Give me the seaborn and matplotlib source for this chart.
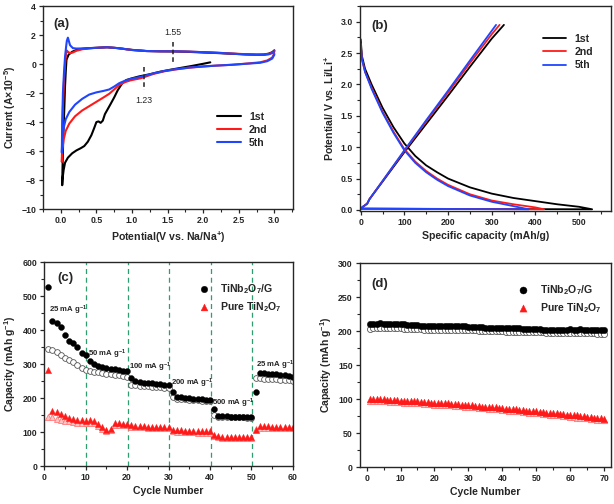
import numpy as np
import matplotlib
matplotlib.use("Agg")
import matplotlib.pyplot as plt
import seaborn as sns
from matplotlib.ticker import MultipleLocator

sns.set_style("ticks")
plt.rcParams['font.family'] = ['Liberation Sans', 'DejaVu Sans']
plt.rcParams['font.weight'] = 'bold'
plt.rcParams['axes.labelweight'] = 'bold'
plt.rcParams['mathtext.fontset'] = 'custom'
plt.rcParams['mathtext.rm'] = 'Liberation Sans:bold'
plt.rcParams['mathtext.default'] = 'rm'

# ---- (a) CV curves ----
cv1_x = [2.10, 2.00, 1.85, 1.70, 1.55, 1.40, 1.25, 1.10, 1.00, 0.92,
         0.86, 0.80, 0.75, 0.70, 0.66, 0.62, 0.59, 0.56, 0.53, 0.50,
         0.47, 0.43, 0.38, 0.33, 0.28, 0.22, 0.16, 0.10, 0.06, 0.04,
         0.025, 0.02, 0.025, 0.035, 0.05, 0.06, 0.07, 0.08, 0.11, 0.16,
         0.22, 0.30, 0.40, 0.50, 0.65, 0.80, 1.00, 1.20, 1.40, 1.60,
         1.80, 2.00, 2.20, 2.40, 2.60, 2.75, 2.85, 2.92, 2.97, 3.00]
cv1_y = [0.12, 0.02, -0.12, -0.25, -0.38, -0.52, -0.70, -0.85, -0.98, -1.10,
         -1.35, -1.80, -2.30, -2.75, -3.10, -3.45, -3.90, -4.05, -3.95, -4.00,
         -4.40, -4.90, -5.35, -5.65, -5.80, -5.95, -6.15, -6.45, -6.80, -7.30,
         -7.90, -8.35, -7.00, -5.00, -3.00, -1.50, -0.50, 0.30, 0.65, 0.85,
         0.97, 1.05, 1.10, 1.12, 1.16, 1.10, 0.98, 0.90, 0.88, 0.87,
         0.84, 0.80, 0.76, 0.71, 0.67, 0.65, 0.66, 0.72, 0.82, 0.95]

cv_x = [3.00, 2.97, 2.90, 2.80, 2.60, 2.40, 2.20, 2.00, 1.80, 1.60,
        1.45, 1.30, 1.20, 1.12, 1.05, 0.98, 0.90, 0.82, 0.75, 0.68,
        0.60, 0.50, 0.40, 0.30, 0.20, 0.12, 0.07, 0.04, 0.02, 0.015,
        0.02, 0.03, 0.045, 0.06, 0.075, 0.085, 0.10, 0.13, 0.17, 0.22,
        0.30, 0.40, 0.50, 0.65, 0.80, 1.00, 1.20, 1.40, 1.60, 1.80,
        2.00, 2.20, 2.40, 2.60, 2.75, 2.85, 2.92, 2.97, 3.00]
cv2_y = [0.75, 0.45, 0.25, 0.12, 0.03, -0.05, -0.10, -0.17, -0.25, -0.38,
         -0.50, -0.68, -0.85, -0.98, -1.05, -1.12, -1.25, -1.45, -1.75, -2.05,
         -2.30, -2.60, -2.90, -3.20, -3.60, -4.10, -4.60, -5.20, -6.00, -6.75,
         -5.00, -3.00, -1.20, 0.00, 0.75, 0.93, 0.85, 0.75, 0.80, 0.92,
         1.02, 1.08, 1.12, 1.16, 1.10, 0.97, 0.90, 0.88, 0.88, 0.86,
         0.82, 0.78, 0.73, 0.68, 0.66, 0.66, 0.70, 0.78, 0.90]
cv5_y = [0.65, 0.38, 0.20, 0.09, 0.02, -0.05, -0.10, -0.16, -0.24, -0.36,
         -0.48, -0.64, -0.78, -0.88, -0.95, -1.02, -1.15, -1.32, -1.55, -1.75,
         -1.85, -1.95, -2.10, -2.40, -2.80, -3.30, -3.80, -4.40, -5.20, -6.10,
         -4.00, -2.00, -0.60, 0.50, 1.20, 1.60, 1.82, 1.30, 1.10, 1.07,
         1.08, 1.10, 1.12, 1.16, 1.10, 0.97, 0.90, 0.88, 0.88, 0.86,
         0.82, 0.78, 0.72, 0.66, 0.63, 0.63, 0.67, 0.76, 0.88]

# ---- (b) discharge / charge ----
dis1_cap = [0, 3, 10, 25, 50, 75, 100, 125, 150, 175, 200, 250, 300, 350, 400, 450, 500, 530]
dis1_v = [2.72, 2.45, 2.25, 2.00, 1.63, 1.32, 1.06, 0.86, 0.71, 0.60, 0.50, 0.36, 0.26, 0.19, 0.14, 0.09, 0.05, 0.01]
dis2_cap = [0, 3, 10, 25, 50, 75, 100, 125, 150, 175, 200, 250, 300, 350, 400, 420]
dis2_v = [2.65, 2.40, 2.20, 1.95, 1.57, 1.25, 0.97, 0.77, 0.62, 0.50, 0.40, 0.25, 0.15, 0.09, 0.04, 0.01]
dis5_cap = [0, 3, 10, 25, 50, 75, 100, 125, 150, 175, 200, 250, 300, 350, 385]
dis5_v = [2.65, 2.40, 2.20, 1.93, 1.55, 1.23, 0.95, 0.75, 0.60, 0.48, 0.38, 0.23, 0.13, 0.06, 0.01]
chg1_cap = [0, 5, 15, 20, 50, 100, 150, 200, 250, 300, 328]
chg1_v = [0.02, 0.05, 0.10, 0.17, 0.45, 0.92, 1.37, 1.82, 2.28, 2.73, 2.95]
chg2_cap = [0, 5, 15, 20, 50, 100, 150, 200, 250, 300, 318]
chg2_v = [0.02, 0.05, 0.10, 0.17, 0.46, 0.94, 1.41, 1.87, 2.34, 2.80, 2.95]
chg5_cap = [0, 5, 15, 20, 50, 100, 150, 200, 250, 310]
chg5_v = [0.02, 0.05, 0.10, 0.17, 0.46, 0.95, 1.43, 1.90, 2.38, 2.95]

# ---- (c) rate performance ----
g_dis = [527, 427, 421, 410, 385, 369, 361, 351, 334, 327,
         308, 300, 296, 292, 289, 287, 285, 283, 281, 279,
         260, 249, 247, 246, 245, 244, 243, 241, 240, 238,
         219, 204, 202, 201, 200, 199, 198, 197, 196, 195,
         167, 148, 147, 147, 146, 146, 146, 146, 145, 145,
         219, 273, 273, 272, 271, 270, 269, 267, 265, 263]
g_chg = [345, 342, 335, 327, 318, 312, 305, 298, 290, 284,
         281, 278, 276, 274, 272, 271, 269, 267, 265, 262,
         240, 238, 237, 236, 235, 234, 233, 232, 231, 230,
         203, 199, 198, 197, 196, 195, 194, 193, 192, 191,
         150, 145, 145, 145, 144, 144, 144, 144, 143, 143,
         258, 258, 257, 257, 256, 255, 254, 253, 252, 251]
p_dis = [283, 163, 158, 152, 147, 143, 140, 137, 135, 134,
         135, 133, 125, 115, 107, 108, 127, 126, 125, 125,
         120, 118, 117, 117, 116, 116, 115, 115, 114, 114,
         107, 105, 105, 104, 104, 104, 103, 103, 103, 102,
         93, 88, 87, 87, 87, 86, 86, 86, 86, 85,
         105, 117, 117, 117, 116, 116, 116, 116, 115, 115]
p_chg = [145, 145, 140, 137, 134, 132, 130, 128, 127, 127,
         128, 126, 118, 110, 103, 105, 122, 122, 121, 121,
         116, 115, 114, 114, 113, 113, 112, 112, 111, 111,
         102, 101, 101, 100, 100, 100, 99, 99, 99, 98,
         88, 85, 84, 84, 84, 83, 83, 83, 83, 82,
         110, 113, 113, 113, 113, 112, 112, 112, 112, 112]
rate_edges = [10.2, 20.2, 30.2, 40.2, 50.2]
rate_labels = ["25 mA g$^{-1}$", "50 mA g$^{-1}$", "100 mA g$^{-1}$",
               "200 mA g$^{-1}$", "500 mA g$^{-1}$", "25 mA g$^{-1}$"]
rate_pos = [(1.1, 457), (10.5, 330), (20.5, 290), (30.6, 245), (40.5, 186), (51.0, 297)]

# ---- (d) cycling ----
d_g_dis = [210, 211, 211, 212, 211, 210, 211, 211, 210, 210,
           210, 209, 209, 209, 209, 208, 208, 208, 208, 208,
           208, 208, 207, 207, 208, 207, 207, 207, 207, 206,
           206, 206, 206, 206, 205, 205, 205, 205, 205, 205,
           204, 204, 204, 204, 204, 203, 203, 203, 203, 203,
           203, 202, 202, 202, 202, 202, 202, 202, 202, 203,
           202, 202, 203, 202, 202, 201, 201, 201, 201, 201]
d_g_chg = [203, 204, 204, 204, 204, 204, 204, 204, 204, 204,
           203, 203, 203, 203, 203, 203, 202, 202, 202, 202,
           202, 202, 202, 202, 202, 202, 201, 201, 201, 201,
           201, 201, 200, 200, 200, 200, 200, 200, 200, 200,
           199, 199, 199, 199, 199, 199, 198, 198, 198, 198,
           198, 198, 197, 197, 197, 197, 197, 197, 197, 197,
           197, 197, 197, 197, 197, 197, 197, 196, 196, 196]
d_p_dis = [100, 100, 100, 100, 100, 99, 99, 99, 99, 98,
           98, 98, 97, 97, 97, 96, 96, 96, 95, 95,
           95, 94, 94, 94, 93, 93, 93, 92, 92, 91,
           91, 90, 90, 89, 89, 89, 88, 88, 87, 87,
           86, 86, 85, 85, 84, 84, 83, 83, 82, 82,
           81, 81, 80, 80, 79, 79, 78, 78, 77, 77,
           76, 76, 75, 75, 74, 74, 73, 72, 72, 71]
d_p_chg = [97, 98, 98, 97, 97, 97, 96, 96, 96, 96,
           95, 95, 95, 94, 94, 94, 93, 93, 93, 92,
           92, 92, 91, 91, 91, 90, 90, 90, 89, 89,
           88, 88, 87, 87, 87, 86, 86, 85, 85, 84,
           84, 83, 83, 82, 82, 81, 81, 80, 80, 79,
           79, 78, 78, 77, 77, 76, 76, 75, 75, 74,
           74, 73, 73, 72, 72, 71, 71, 70, 70, 69]

BLACK, RED, BLUE = '#000000', '#ff1a1a', '#1f45ff'
TICK_FS, LABEL_FS, LEG_FS, TAG_FS = 6.3, 7.6, 7.6, 9.5

fig = plt.figure(figsize=(6.14, 5.04), dpi=100)
ax_a = fig.add_axes([0.070, 0.585, 0.407, 0.403])
ax_b = fig.add_axes([0.586, 0.581, 0.409, 0.407])
ax_c = fig.add_axes([0.072, 0.075, 0.405, 0.405])
ax_d = fig.add_axes([0.586, 0.073, 0.409, 0.405])


def style(ax, xmaj, ymaj):
    ax.xaxis.set_major_locator(MultipleLocator(xmaj))
    ax.xaxis.set_minor_locator(MultipleLocator(xmaj / 2))
    ax.yaxis.set_major_locator(MultipleLocator(ymaj))
    ax.yaxis.set_minor_locator(MultipleLocator(ymaj / 2))
    ax.tick_params(which='major', direction='out', length=3, width=0.9, labelsize=TICK_FS, pad=2)
    ax.tick_params(which='minor', direction='out', length=2, width=0.8)
    for lab in ax.get_xticklabels() + ax.get_yticklabels():
        lab.set_fontweight('bold')
    for sp in ax.spines.values():
        sp.set_linewidth(1.0)


# (a)
sns.lineplot(x=cv1_x, y=cv1_y, sort=False, estimator=None, color=BLACK, lw=1.5, label='1st', ax=ax_a)
sns.lineplot(x=cv_x, y=cv2_y, sort=False, estimator=None, color=RED, lw=1.5, label='2nd', ax=ax_a)
sns.lineplot(x=cv_x, y=cv5_y, sort=False, estimator=None, color=BLUE, lw=1.5, label='5th', ax=ax_a)
ax_a.plot([1.17, 1.17], [-0.2, -1.8], color='#222222', lw=1.1, ls=(0, (3, 2)))
ax_a.plot([1.58, 1.58], [1.55, 0.05], color='#222222', lw=1.1, ls=(0, (3, 2)))
ax_a.text(1.17, -2.5, '1.23', ha='center', va='center', fontsize=6.3, fontweight='normal')
ax_a.text(1.58, 2.2, '1.55', ha='center', va='center', fontsize=6.3, fontweight='normal')
ax_a.text(0.01, 2.75, '(a)', ha='center', va='center', fontsize=TAG_FS, fontweight='bold')
ax_a.set_xlim(-0.25, 3.26)
ax_a.set_ylim(-10, 4)
style(ax_a, 0.5, 2)
ax_a.set_xlabel('Potential(V vs. Na/Na$^{+}$)', fontsize=LABEL_FS, labelpad=3)
ax_a.set_ylabel('Current (A\u00d710$^{-5}$)', fontsize=LABEL_FS, labelpad=2)
ax_a.legend(loc='center left', bbox_to_anchor=(0.66, 0.39), frameon=False, fontsize=LEG_FS,
            handlelength=2.2, labelspacing=0.3, handletextpad=0.8)

# (b)
for cap_d, v_d, cap_c, v_c, col, lab in [
        (dis1_cap, dis1_v, chg1_cap, chg1_v, BLACK, '1st'),
        (dis2_cap, dis2_v, chg2_cap, chg2_v, RED, '2nd'),
        (dis5_cap, dis5_v, chg5_cap, chg5_v, BLUE, '5th')]:
    sns.lineplot(x=cap_d + cap_c, y=v_d + v_c, sort=False,
                 estimator=None, color=col, lw=1.3, label=lab, ax=ax_b)
ax_b.text(43, 2.93, '(b)', ha='center', va='center', fontsize=TAG_FS, fontweight='bold')
ax_b.set_xlim(-2, 573)
ax_b.set_ylim(-0.02, 3.25)
style(ax_b, 100, 0.5)
ax_b.set_xlabel('Specific capacity (mAh/g)', fontsize=LABEL_FS, labelpad=3)
ax_b.set_ylabel('Potential/ V vs. Li/Li$^{+}$', fontsize=LABEL_FS, labelpad=3)
ax_b.legend(loc='upper left', bbox_to_anchor=(0.69, 0.91), frameon=False, fontsize=LEG_FS,
            handlelength=2.2, labelspacing=0.3, handletextpad=0.8)

# (c)
cyc_c = np.arange(1, len(g_dis) + 1)
for xe in rate_edges:
    ax_c.axvline(xe, color='#2e9e6e', lw=0.9, ls=(0, (4, 3)), zorder=0)
sns.scatterplot(x=cyc_c, y=p_chg, marker='^', s=18, color='#ffc4c4', edgecolor='#ff7a7a', linewidth=0.6, ax=ax_c)
sns.scatterplot(x=cyc_c, y=p_dis, marker='^', s=20, color=RED, edgecolor=RED, linewidth=0.3, ax=ax_c,
                label='Pure TiN$_{2}$O$_{7}$')
sns.scatterplot(x=cyc_c, y=g_chg, marker='o', s=17, color='white', edgecolor='#555555', linewidth=0.6, ax=ax_c)
sns.scatterplot(x=cyc_c, y=g_dis, marker='o', s=18, color=BLACK, edgecolor=BLACK, linewidth=0.3, ax=ax_c,
                label='TiNb$_{2}$O$_{7}$/G')
for txt, (tx, ty) in zip(rate_labels, rate_pos):
    ax_c.text(tx, ty, txt, ha='left', va='center', fontsize=5.6, fontweight='bold')
ax_c.text(5.1, 552, '(c)', ha='center', va='center', fontsize=TAG_FS, fontweight='bold')
ax_c.set_xlim(0, 60)
ax_c.set_ylim(0, 600)
style(ax_c, 10, 100)
ax_c.set_xlabel('Cycle Number', fontsize=LABEL_FS, labelpad=3)
ax_c.set_ylabel('Capacity (mAh g$^{-1}$)', fontsize=LABEL_FS, labelpad=3)
h, l = ax_c.get_legend_handles_labels()
ax_c.legend(h[::-1], l[::-1], loc='upper left', bbox_to_anchor=(0.56, 0.95), frameon=False,
            fontsize=LEG_FS, handletextpad=0.6, labelspacing=0.4, markerscale=1.1)

# (d)
cyc_d = np.arange(1, len(d_g_dis) + 1)
sns.scatterplot(x=cyc_d, y=d_p_chg, marker='^', s=20, color='#ffc4c4', edgecolor='#ff7a7a', linewidth=0.6, ax=ax_d)
sns.scatterplot(x=cyc_d, y=d_p_dis, marker='^', s=22, color=RED, edgecolor=RED, linewidth=0.3, ax=ax_d,
                label='Pure TiN$_{2}$O$_{7}$')
sns.scatterplot(x=cyc_d, y=d_g_chg, marker='o', s=19, color='white', edgecolor='#555555', linewidth=0.6, ax=ax_d)
sns.scatterplot(x=cyc_d, y=d_g_dis, marker='o', s=21, color=BLACK, edgecolor=BLACK, linewidth=0.3, ax=ax_d,
                label='TiNb$_{2}$O$_{7}$/G')
ax_d.text(3.9, 270, '(d)', ha='center', va='center', fontsize=TAG_FS, fontweight='bold')
ax_d.set_xlim(-2, 72)
ax_d.set_ylim(0, 300)
style(ax_d, 10, 50)
ax_d.set_xlabel('Cycle Number', fontsize=LABEL_FS, labelpad=3)
ax_d.set_ylabel('Capacity (mAh g$^{-1}$)', fontsize=LABEL_FS, labelpad=3)
h, l = ax_d.get_legend_handles_labels()
ax_d.legend(h[::-1], l[::-1], loc='upper left', bbox_to_anchor=(0.57, 0.95), frameon=False,
            fontsize=LEG_FS, handletextpad=0.6, labelspacing=0.4, markerscale=1.1)

fig.savefig('out.png', dpi=100)
